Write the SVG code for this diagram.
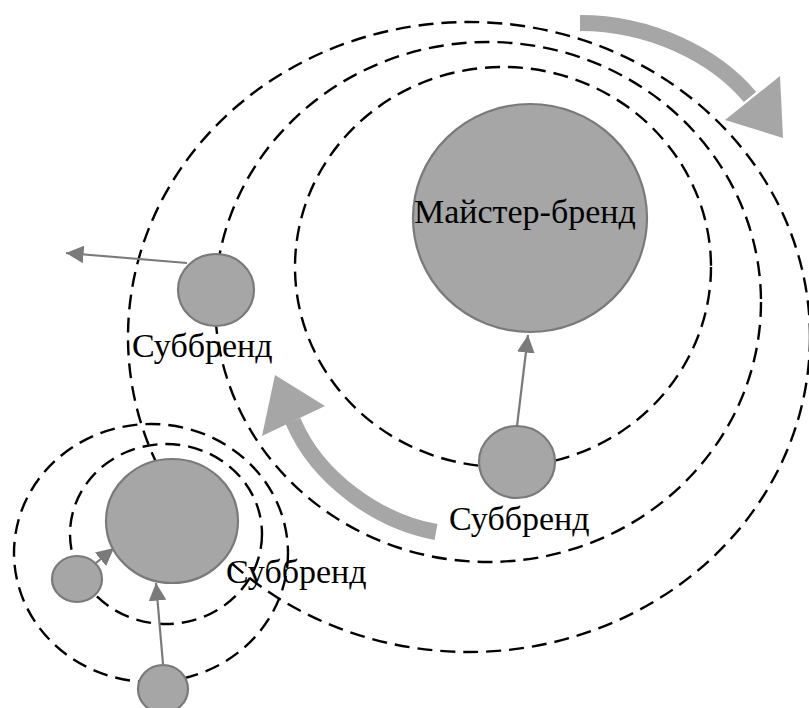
<svg xmlns="http://www.w3.org/2000/svg" width="809" height="708" viewBox="0 0 809 708">
<style>
.orbit{fill:none;stroke:#000;stroke-width:2.4;stroke-dasharray:15 8}
.node{fill:#a6a6a6;stroke:#7a7a7a;stroke-width:2.2}
.conn{stroke:#7a7a7a;stroke-width:2.2;fill:none}
.big{fill:none;stroke:#a6a6a6;stroke-width:16}
.bighead{fill:#a6a6a6}
.lbl{font-family:'Liberation Serif','Times New Roman',serif;font-size:34px;fill:#000}
</style>
<defs>
<marker id="ahL" viewBox="0 0 10 10" refX="10" refY="5" markerWidth="8" markerHeight="8" orient="auto">
<path d="M0,0 L10,5 L0,10 z" fill="#7a7a7a"/>
</marker>
</defs>
<g id="orbits">
<ellipse class="orbit" cx="469" cy="337" rx="341" ry="315"/>
<ellipse class="orbit" cx="488" cy="302" rx="273" ry="260"/>
<ellipse class="orbit" cx="503" cy="267" rx="208" ry="200"/>
<ellipse class="orbit" cx="151" cy="553" rx="137" ry="129"/>
<ellipse class="orbit" cx="166" cy="534" rx="96" ry="90"/>
</g>
<g id="big-arrows">
<path class="big" d="M580,23 C650,23 715,55 750,97"/>
<polygon class="bighead" points="725,120 780,76 783,138"/>
<path class="big" d="M436,532 C380,522 318,480 293,421"/>
<polygon class="bighead" points="262,436 275,375 325,406"/>
</g>
<g id="connectors">
<line class="conn" x1="187" y1="263" x2="66" y2="253" marker-end="url(#ahL)"/>
<line class="conn" x1="517" y1="426" x2="528" y2="335" marker-end="url(#ahL)"/>
<line class="conn" x1="96" y1="563" x2="114" y2="548" marker-end="url(#ahL)"/>
<line class="conn" x1="163" y1="664" x2="156" y2="583" marker-end="url(#ahL)"/>
</g>
<g id="master">
<ellipse class="node" cx="530" cy="218" rx="117" ry="114"/>
<text class="lbl" x="414" y="223">Майстер-бренд</text>
</g>
<g id="sub-top">
<ellipse class="node" cx="216" cy="290" rx="38" ry="36"/>
<text class="lbl" x="132" y="357">Суббренд</text>
</g>
<g id="sub-mid">
<ellipse class="node" cx="517" cy="462" rx="38" ry="36"/>
<text class="lbl" x="449" y="530">Суббренд</text>
</g>
<g id="sub-cluster">
<ellipse class="node" cx="172" cy="521" rx="66" ry="62"/>
<text class="lbl" x="226" y="583">Суббренд</text>
</g>
<g id="sub-left">
<ellipse class="node" cx="77" cy="579" rx="25" ry="23"/>
</g>
<g id="sub-bottom">
<ellipse class="node" cx="163" cy="689" rx="25" ry="24"/>
</g>
</svg>
